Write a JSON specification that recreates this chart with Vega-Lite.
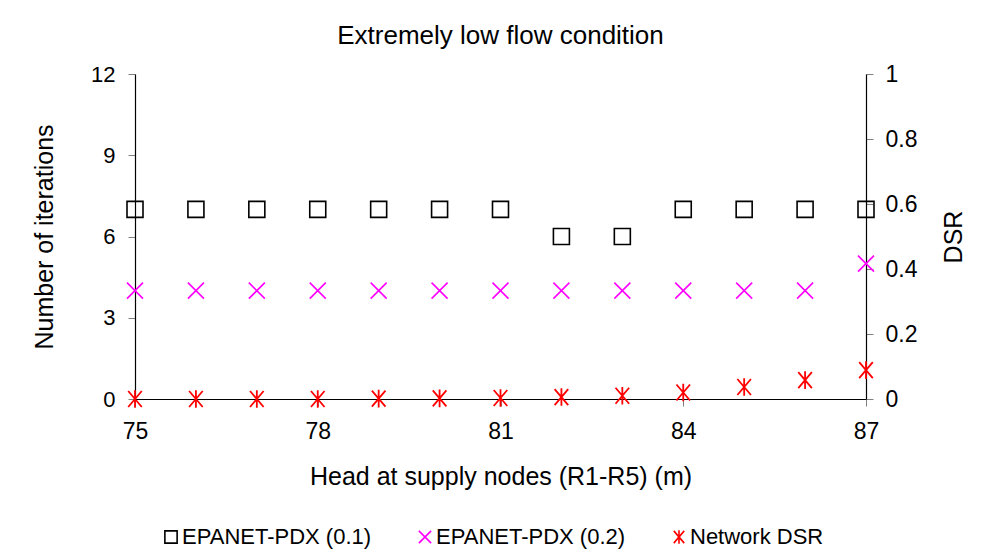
{
  "$schema": "https://vega.github.io/schema/vega-lite/v6.json",
  "autosize": "none",
  "width": 731,
  "height": 325,
  "padding": {"left": 135, "top": 74, "right": 123, "bottom": 158},
  "background": "white",
  "title": {"text": "Extremely low flow condition", "fontSize": 26, "font": "Liberation Sans", "fontWeight": "normal", "color": "black", "anchor": "middle", "offset": 14},
  "config": {
    "view": {"stroke": null},
    "font": "Liberation Sans",
    "axis": {"grid": false, "domainColor": "black", "domainWidth": 1.2, "tickColor": "#808080", "tickSize": 7, "labelColor": "black", "titleColor": "black", "labelFontSize": 22, "titleFontSize": 25, "titleFontWeight": "normal", "labelFont": "Liberation Sans", "titleFont": "Liberation Sans", "labelFlush": false}
  },
  "datasets": {
    "iterations": [
      {"head": 75, "series": "EPANET-PDX (0.1)", "value": 7},
      {"head": 76, "series": "EPANET-PDX (0.1)", "value": 7},
      {"head": 77, "series": "EPANET-PDX (0.1)", "value": 7},
      {"head": 78, "series": "EPANET-PDX (0.1)", "value": 7},
      {"head": 79, "series": "EPANET-PDX (0.1)", "value": 7},
      {"head": 80, "series": "EPANET-PDX (0.1)", "value": 7},
      {"head": 81, "series": "EPANET-PDX (0.1)", "value": 7},
      {"head": 82, "series": "EPANET-PDX (0.1)", "value": 6},
      {"head": 83, "series": "EPANET-PDX (0.1)", "value": 6},
      {"head": 84, "series": "EPANET-PDX (0.1)", "value": 7},
      {"head": 85, "series": "EPANET-PDX (0.1)", "value": 7},
      {"head": 86, "series": "EPANET-PDX (0.1)", "value": 7},
      {"head": 87, "series": "EPANET-PDX (0.1)", "value": 7},
      {"head": 75, "series": "EPANET-PDX (0.2)", "value": 4},
      {"head": 76, "series": "EPANET-PDX (0.2)", "value": 4},
      {"head": 77, "series": "EPANET-PDX (0.2)", "value": 4},
      {"head": 78, "series": "EPANET-PDX (0.2)", "value": 4},
      {"head": 79, "series": "EPANET-PDX (0.2)", "value": 4},
      {"head": 80, "series": "EPANET-PDX (0.2)", "value": 4},
      {"head": 81, "series": "EPANET-PDX (0.2)", "value": 4},
      {"head": 82, "series": "EPANET-PDX (0.2)", "value": 4},
      {"head": 83, "series": "EPANET-PDX (0.2)", "value": 4},
      {"head": 84, "series": "EPANET-PDX (0.2)", "value": 4},
      {"head": 85, "series": "EPANET-PDX (0.2)", "value": 4},
      {"head": 86, "series": "EPANET-PDX (0.2)", "value": 4},
      {"head": 87, "series": "EPANET-PDX (0.2)", "value": 5}
    ],
    "dsr": [
      {"head": 75, "series": "Network DSR", "value": 0},
      {"head": 76, "series": "Network DSR", "value": 0},
      {"head": 77, "series": "Network DSR", "value": 0},
      {"head": 78, "series": "Network DSR", "value": 0},
      {"head": 79, "series": "Network DSR", "value": 0.001},
      {"head": 80, "series": "Network DSR", "value": 0.002},
      {"head": 81, "series": "Network DSR", "value": 0.003},
      {"head": 82, "series": "Network DSR", "value": 0.006},
      {"head": 83, "series": "Network DSR", "value": 0.01},
      {"head": 84, "series": "Network DSR", "value": 0.02},
      {"head": 85, "series": "Network DSR", "value": 0.037},
      {"head": 86, "series": "Network DSR", "value": 0.058},
      {"head": 87, "series": "Network DSR", "value": 0.089}
    ]
  },
  "layer": [
    {
      "data": {"name": "iterations"},
      "mark": {"type": "point", "filled": false, "size": 256, "strokeWidth": 1.6, "clip": false, "opacity": 1},
      "encoding": {
        "x": {"field": "head", "type": "quantitative", "scale": {"domain": [75, 87], "nice": false, "zero": false}, "axis": {"values": [75, 78, 81, 84, 87], "format": "d", "title": "Head at supply nodes (R1-R5) (m)", "labelFontSize": 23, "labelPadding": 14, "titlePadding": 21, "labelFlush": false}},
        "y": {"field": "value", "type": "quantitative", "scale": {"domain": [0, 12], "nice": false, "zero": true}, "axis": {"orient": "left", "values": [0, 3, 6, 9, 12], "title": "Number of iterations", "labelPadding": 13, "titlePadding": 33}},
        "color": {"field": "series", "type": "nominal", "scale": {"domain": ["EPANET-PDX (0.1)", "EPANET-PDX (0.2)", "Network DSR"], "range": ["#000000", "#FF00FF", "#FF0000"]},
          "legend": {"orient": "none", "legendX": 25, "legendY": 452, "direction": "horizontal", "title": null, "labelFontSize": 22, "labelLimit": 0, "labelColor": "black", "symbolSize": 150, "symbolStrokeWidth": 1.6, "columnPadding": 42, "labelOffset": 0}},
        "shape": {"field": "series", "type": "nominal", "scale": {"domain": ["EPANET-PDX (0.1)", "EPANET-PDX (0.2)", "Network DSR"], "range": ["square", "M-1,-1L1,1M1,-1L-1,1", "M-0.85,-1L0.85,1M0.85,-1L-0.85,1M0,-1.1L0,1.1"]}}
      }
    },
    {
      "data": {"name": "dsr"},
      "mark": {"type": "point", "filled": false, "size": 256, "strokeWidth": 1.8, "clip": false, "opacity": 1},
      "encoding": {
        "x": {"field": "head", "type": "quantitative", "scale": {"domain": [75, 87], "nice": false, "zero": false}},
        "y": {"field": "value", "type": "quantitative", "scale": {"domain": [0, 1], "nice": false, "zero": true}, "axis": {"orient": "right", "values": [0, 0.2, 0.4, 0.6, 0.8, 1], "format": "~g", "title": "DSR", "titleAngle": 270, "labelFontSize": 23, "labelPadding": 12, "titlePadding": 50}},
        "color": {"field": "series", "type": "nominal", "scale": {"domain": ["EPANET-PDX (0.1)", "EPANET-PDX (0.2)", "Network DSR"], "range": ["#000000", "#FF00FF", "#FF0000"]}},
        "shape": {"field": "series", "type": "nominal", "scale": {"domain": ["EPANET-PDX (0.1)", "EPANET-PDX (0.2)", "Network DSR"], "range": ["square", "M-1,-1L1,1M1,-1L-1,1", "M-0.85,-1L0.85,1M0.85,-1L-0.85,1M0,-1.1L0,1.1"]}}
      }
    }
  ],
  "resolve": {"scale": {"y": "independent"}}
}
